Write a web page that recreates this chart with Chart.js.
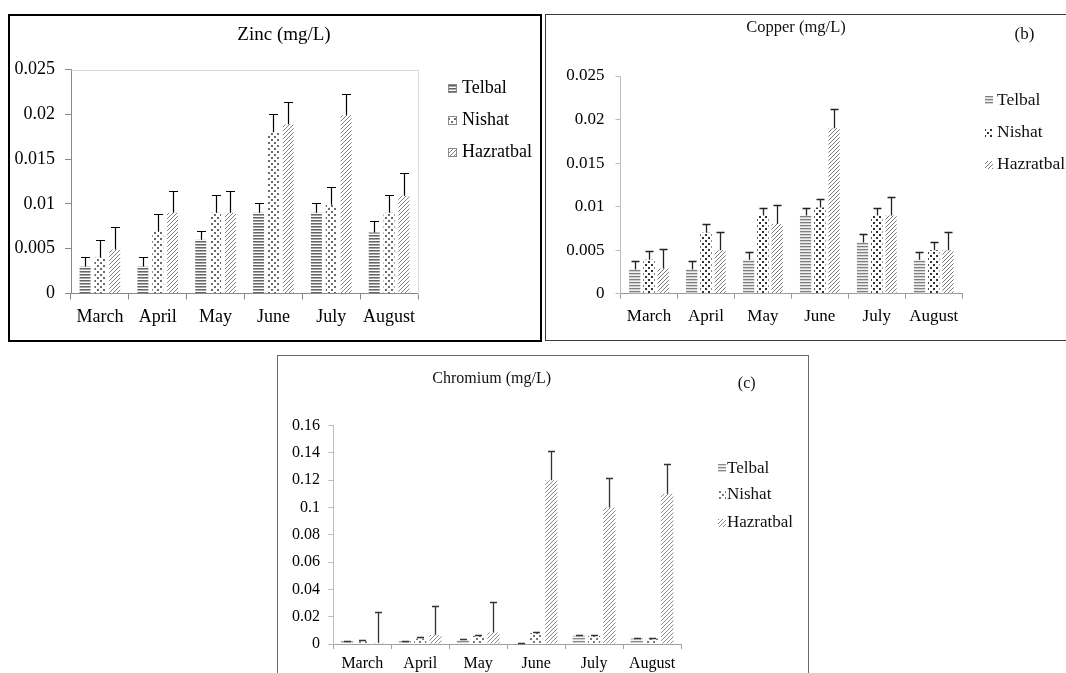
<!DOCTYPE html>
<html><head><meta charset="utf-8">
<script src="https://cdn.jsdelivr.net/npm/chart.js@4.4.1/dist/chart.umd.min.js"></script>
<style>
html,body{margin:0;padding:0;width:1066px;height:673px;overflow:hidden;background:#fff;}
.panel{position:absolute;box-sizing:content-box;background:#fff;}
.panel canvas{position:absolute;left:0;top:0;}
</style></head><body>
<div class="panel" style="left:8px;top:14px;width:530px;height:324px;border:2px solid #000;"><canvas id="ca" width="530" height="324"></canvas></div>
<div class="panel" style="left:545px;top:14px;width:540px;height:325px;border:1.5px solid #3a3a3a;"><canvas id="cb" width="540" height="325"></canvas></div>
<div class="panel" style="left:277px;top:355px;width:530px;height:340px;border:1px solid #6a6a6a;"><canvas id="cc" width="530" height="340"></canvas></div>
<script>
// ---------- data ----------
const months = ["March", "April", "May", "June", "July", "August"];
const sites = ["Telbal", "Nishat", "Hazratbal"];

const zincTelbal      = [0.003, 0.003, 0.006, 0.009, 0.009, 0.0068];
const zincTelbalSD    = [0.0011, 0.0011, 0.001, 0.0011, 0.0011, 0.0013];
const zincNishat      = [0.004, 0.0069, 0.009, 0.018, 0.0099, 0.009];
const zincNishatSD    = [0.002, 0.002, 0.002, 0.002, 0.002, 0.002];
const zincHazratbal   = [0.0049, 0.009, 0.009, 0.0189, 0.0199, 0.0109];
const zincHazratbalSD = [0.0025, 0.0024, 0.0024, 0.0025, 0.0024, 0.0025];
const zincTicks       = [0, 0.005, 0.01, 0.015, 0.02, 0.025];
const zincTickLabels  = ["0", "0.005", "0.01", "0.015", "0.02", "0.025"];

const copperTelbal      = [0.0028, 0.0028, 0.0039, 0.009, 0.0059, 0.0039];
const copperTelbalSD    = [0.001, 0.001, 0.0009, 0.0009, 0.001, 0.0009];
const copperNishat      = [0.0039, 0.007, 0.009, 0.0099, 0.009, 0.005];
const copperNishatSD    = [0.001, 0.001, 0.0009, 0.001, 0.0009, 0.0009];
const copperHazratbal   = [0.0029, 0.005, 0.008, 0.019, 0.009, 0.005];
const copperHazratbalSD = [0.0022, 0.0021, 0.0022, 0.0022, 0.0021, 0.0021];
const copperTicks       = [0, 0.005, 0.01, 0.015, 0.02, 0.025];
const copperTickLabels  = ["0", "0.005", "0.01", "0.015", "0.02", "0.025"];

const chromiumTelbal      = [0.002, 0.002, 0.003, 0.0005, 0.006, 0.004];
const chromiumTelbalSD    = [0.0005, 0.0005, 0.0005, 0.0002, 0.0008, 0.0006];
const chromiumNishat      = [0.002, 0.004, 0.006, 0.008, 0.006, 0.004];
const chromiumNishatSD    = [0.0008, 0.0008, 0.0008, 0.0008, 0.0008, 0.0006];
const chromiumHazratbal   = [0.001, 0.0066, 0.0085, 0.12, 0.10, 0.11];
const chromiumHazratbalSD = [0.0222, 0.0214, 0.022, 0.0215, 0.0212, 0.0217];
const chromiumTicks       = [0, 0.02, 0.04, 0.06, 0.08, 0.1, 0.12, 0.14, 0.16];
const chromiumTickLabels  = ["0", "0.02", "0.04", "0.06", "0.08", "0.1", "0.12", "0.14", "0.16"];

const titles = ["Zinc (mg/L)", "Copper (mg/L)", "Chromium (mg/L)"];
const tags = ["", "(b)", "(c)"];

// ---------- patterns ----------
const FONT = '"Liberation Serif", "Times New Roman", serif';
function mk(w, h) { const c = document.createElement('canvas'); c.width = w; c.height = h; return c; }
function stripes(rows) {
  const c = mk(4, rows.length), x = c.getContext('2d');
  rows.forEach((col, i) => { x.fillStyle = col; x.fillRect(0, i, 4, 1); });
  return x.createPattern(c, 'repeat');
}
function dots(size, d, color, bg) {
  const c = mk(size, size), x = c.getContext('2d');
  x.fillStyle = bg; x.fillRect(0, 0, size, size);
  x.fillStyle = color;
  x.fillRect(0, 0, d, d);
  x.fillRect(size / 2, size / 2, d, d);
  return x.createPattern(c, 'repeat');
}
function diag(size, color, lw) {
  const c = mk(size, size), x = c.getContext('2d');
  x.fillStyle = '#fff'; x.fillRect(0, 0, size, size);
  x.strokeStyle = color; x.lineWidth = lw;
  x.beginPath();
  x.moveTo(0, size); x.lineTo(size, 0);
  x.moveTo(-1, 1); x.lineTo(1, -1);
  x.moveTo(size - 1, size + 1); x.lineTo(size + 1, size - 1);
  x.stroke();
  return x.createPattern(c, 'repeat');
}
const patA = [stripes(['#666', '#a8a8a8', '#fff']), dots(6, 2, '#6a6a6a', '#fff'), diag(4, '#808080', 1)];
const patB = [stripes(['#808080', '#cfcfcf', '#efefef']), dots(6, 2, '#333', '#fff'), diag(4, '#7a7a7a', 1)];
const patC = [stripes(['#8a8a8a', '#d0d0d0', '#f4f4f4']), dots(6, 2, '#777', '#fff'), diag(4, '#8a8a8a', 1)];

// ---------- plugins ----------
const errorBars = {
  id: 'errorBars',
  afterDatasetsDraw(chart, args, o) {
    const ctx = chart.ctx, ys = chart.scales.y;
    ctx.save();
    ctx.strokeStyle = o.color; ctx.lineWidth = o.width;
    chart.data.datasets.forEach((ds, i) => {
      chart.getDatasetMeta(i).data.forEach((bar, j) => {
        const v = ds.data[j], e = ds.errors[j];
        const yb = ys.getPixelForValue(v);
        const yt = Math.round(ys.getPixelForValue(v + e)) + 0.5;
        const x = Math.round(bar.x) + 0.5;
        ctx.beginPath();
        ctx.moveTo(x, yb); ctx.lineTo(x, yt);
        ctx.moveTo(x - o.cap / 2, yt); ctx.lineTo(x + o.cap / 2, yt);
        ctx.stroke();
      });
    });
    ctx.restore();
  }
};
const panelText = {
  id: 'panelText',
  afterDraw(chart, args, o) {
    const ctx = chart.ctx;
    ctx.save();
    ctx.fillStyle = o.color; ctx.textAlign = 'center'; ctx.textBaseline = 'middle';
    ctx.font = o.titleSize + 'px ' + FONT;
    ctx.fillText(o.title, o.tx, o.ty);
    if (o.tag) { ctx.font = o.tagSize + 'px ' + FONT; ctx.fillText(o.tag, o.gx, o.gy); }
    ctx.restore();
  }
};
const patternLegend = {
  id: 'patternLegend',
  afterDraw(chart, args, o) {
    const ctx = chart.ctx;
    ctx.save();
    ctx.font = o.size + 'px ' + FONT; ctx.textBaseline = 'middle'; ctx.textAlign = 'left';
    chart.data.datasets.forEach((ds, i) => {
      const y = o.ys[i];
      ctx.fillStyle = ds.backgroundColor;
      ctx.fillRect(o.bx, Math.round(y - o.box / 2), o.box, o.box);
      if (o.boxBorder) {
        ctx.strokeStyle = o.boxBorder; ctx.lineWidth = 1;
        ctx.strokeRect(o.bx + 0.5, Math.round(y - o.box / 2) + 0.5, o.box - 1, o.box - 1);
      }
      ctx.fillStyle = o.color;
      ctx.fillText(ds.label, o.tx, y);
    });
    ctx.restore();
  }
};
const plotFrame = {
  id: 'plotFrame',
  beforeDatasetsDraw(chart, args, o) {
    if (!o.color) return;
    const a = chart.chartArea, ctx = chart.ctx;
    ctx.save(); ctx.strokeStyle = o.color; ctx.lineWidth = 1;
    ctx.beginPath();
    ctx.moveTo(Math.round(a.left) + 0.5, Math.round(a.top) + 0.5);
    ctx.lineTo(Math.round(a.right) + 0.5, Math.round(a.top) + 0.5);
    ctx.lineTo(Math.round(a.right) + 0.5, Math.round(a.bottom) + 0.5);
    ctx.stroke(); ctx.restore();
  }
};

function buildChart(id, s) {
  return new Chart(document.getElementById(id), {
    type: 'bar',
    data: {
      labels: months,
      datasets: s.series.map((d, i) => ({
        label: sites[i], data: d[0], errors: d[1],
        backgroundColor: s.pats[i], borderWidth: 0
      }))
    },
    options: {
      responsive: false, animation: false, devicePixelRatio: 1,
      layout: { padding: s.padding },
      datasets: { bar: { categoryPercentage: s.catPct, barPercentage: s.barPct } },
      plugins: {
        legend: { display: false }, tooltip: { enabled: false }, title: { display: false },
        errorBars: s.err, panelText: s.text, patternLegend: s.legend, plotFrame: { color: s.frame }
      },
      scales: {
        x: {
          grid: { offset: true, drawOnChartArea: false, tickLength: s.xTick, color: s.axisColor },
          border: { color: s.axisColor },
          ticks: { font: { family: FONT, size: s.xFont }, color: '#000', padding: s.xPad, maxRotation: 0, autoSkip: false },
          afterFit: sc => { sc.height = s.xHeight; }
        },
        y: {
          min: s.ticks[0], max: s.ticks[s.ticks.length - 1],
          afterBuildTicks: sc => { sc.ticks = s.ticks.map(v => ({ value: v })); },
          ticks: { callback: (v, i) => s.tickLabels[i], font: { family: FONT, size: s.yFont }, color: '#000', padding: s.yPad },
          grid: { drawOnChartArea: false, tickLength: s.yTick, color: s.yAxisColor },
          border: { color: s.yAxisColor },
          afterFit: sc => { sc.width = s.yWidth; }
        }
      }
    },
    plugins: [plotFrame, errorBars, panelText, patternLegend]
  });
}

buildChart('ca', {
  series: [[zincTelbal, zincTelbalSD], [zincNishat, zincNishatSD], [zincHazratbal, zincHazratbalSD]],
  pats: patA, ticks: zincTicks, tickLabels: zincTickLabels,
  padding: { left: 0, top: 53.5, right: 122, bottom: 0 },
  catPct: 0.77, barPct: 0.74,
  err: { color: '#000', width: 1.2, cap: 9 },
  text: { title: titles[0], tag: tags[0], tx: 274, ty: 19, titleSize: 19, color: '#000' },
  legend: { bx: 438, tx: 452, ys: [72, 104, 136], box: 9, size: 18, color: '#000', boxBorder: '#8a8a8a' },
  frame: '#d9d9d9', axisColor: '#898989', yAxisColor: '#898989',
  xTick: 6, xPad: 7, xFont: 18, xHeight: 46.5,
  yTick: 6, yPad: 10, yFont: 18, yWidth: 61
});

buildChart('cb', {
  series: [[copperTelbal, copperTelbalSD], [copperNishat, copperNishatSD], [copperHazratbal, copperHazratbalSD]],
  pats: patB, ticks: copperTicks, tickLabels: copperTickLabels,
  padding: { left: 0, top: 61, right: 123.8, bottom: 0 },
  catPct: 0.75, barPct: 0.79,
  err: { color: '#222', width: 1.3, cap: 8 },
  text: { title: titles[1], tag: tags[1], tx: 250, ty: 12.5, titleSize: 16.5, gx: 478.5, gy: 19.5, tagSize: 17, color: '#111' },
  legend: { bx: 439, tx: 451, ys: [85, 117.5, 149.5], box: 8, size: 17.5, color: '#111' },
  frame: null, axisColor: '#9a9a9a', yAxisColor: '#bdbdbd',
  xTick: 5, xPad: 8, xFont: 17, xHeight: 46.2,
  yTick: 5, yPad: 11, yFont: 17, yWidth: 74.5
});

buildChart('cc', {
  series: [[chromiumTelbal, chromiumTelbalSD], [chromiumNishat, chromiumNishatSD], [chromiumHazratbal, chromiumHazratbalSD]],
  pats: patC, ticks: chromiumTicks, tickLabels: chromiumTickLabels,
  padding: { left: 0, top: 69.5, right: 127, bottom: 0 },
  catPct: 0.79, barPct: 0.8,
  err: { color: '#333', width: 1.3, cap: 7 },
  text: { title: titles[2], tag: tags[2], tx: 213.7, ty: 22.3, titleSize: 16, gx: 468.7, gy: 27.3, tagSize: 16, color: '#111' },
  legend: { bx: 440, tx: 449, ys: [112.3, 139, 166.7], box: 8, size: 17, color: '#111' },
  frame: null, axisColor: '#a0a0a0', yAxisColor: '#bdbdbd',
  xTick: 5, xPad: 5, xFont: 16, xHeight: 52,
  yTick: 5, yPad: 8.3, yFont: 16, yWidth: 55.3
});
</script>
</body></html>
